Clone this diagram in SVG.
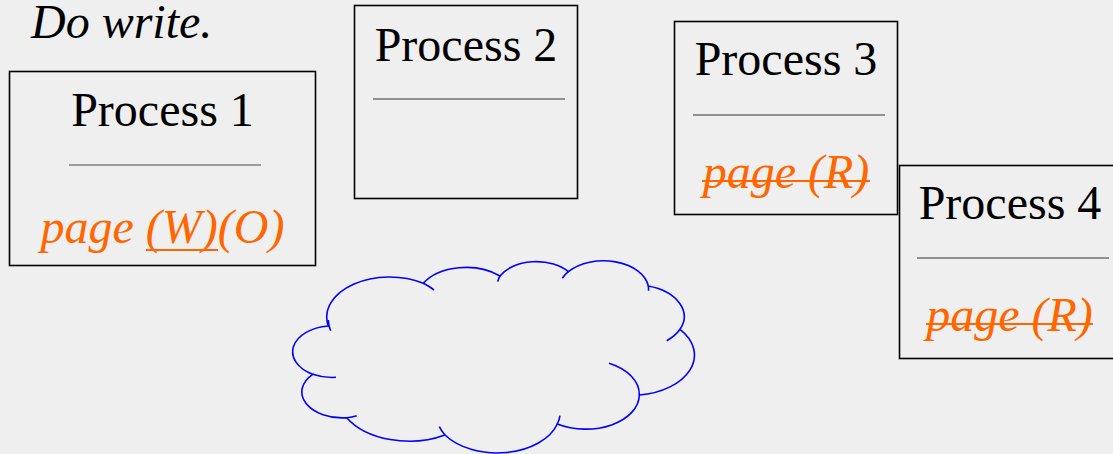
<svg xmlns="http://www.w3.org/2000/svg" width="1113" height="454" viewBox="0 0 1113 454">
<style>
.bg{fill:#efefef}
.box{fill:none;stroke:#000;stroke-width:1.6}
.sep{stroke:#333;stroke-width:1.2}
.sep1{stroke:#808080;stroke-width:1.6}
.title{font-size:48px;fill:#000;text-anchor:middle}
.page{font-size:48px;font-style:italic;fill:#ff6600;text-anchor:middle}
.strike{stroke:#ff6600;stroke-width:2}
.cloud{fill:none;stroke:#0000ff;stroke-width:1.6}
.note{font-size:48px;font-style:italic;fill:#000}
</style>
<rect class="bg" x="0" y="0" width="1113" height="454"/>
<g font-family="'Liberation Serif', 'Times New Roman', 'DejaVu Serif', serif">
<text class="note" x="31" y="38">Do write.</text>
<g id="process1">
<rect class="box" x="9.5" y="71.5" width="306" height="194"/>
<text class="title" x="162.5" y="126">Process 1</text>
<line class="sep1" x1="69" y1="165" x2="261" y2="165"/>
<text class="page" x="162.5" y="243">page (W)(O)</text>
<line class="strike" x1="146" y1="250" x2="218" y2="250"/>
</g>
<g id="process2">
<rect class="box" x="354.5" y="5.5" width="223" height="193"/>
<text class="title" x="466" y="61">Process 2</text>
<line class="sep" x1="373" y1="99" x2="565" y2="99"/>
</g>
<g id="process3">
<rect class="box" x="674.5" y="21.5" width="223" height="193"/>
<text class="title" x="786" y="75">Process 3</text>
<line class="sep" x1="693" y1="115" x2="885" y2="115"/>
<text class="page" x="786" y="188">page (R)</text>
<line class="strike" x1="702" y1="181" x2="870" y2="181"/>
</g>
<g id="process4">
<rect class="box" x="899.5" y="165.5" width="223" height="193"/>
<text class="title" x="1010" y="219">Process 4</text>
<line class="sep" x1="917" y1="258" x2="1109" y2="258"/>
<text class="page" x="1009.5" y="331">page (R)</text>
<line class="strike" x1="926" y1="324" x2="1093" y2="324"/>
</g>
</g>
<g id="cloud">
<path class="cloud" d="M328.3,326 A62.7,40.2 0 0 1 423.3,283.3 A49.5,31.8 0 0 1 500,276 A40.5,26 0 0 1 568.3,271.7 A45.1,28.9 0 0 1 648.3,286 A49.5,31.8 0 0 1 680,329.3 A62.9,40.3 0 0 1 639.3,395 A53.7,34.4 0 0 1 557.3,424 A62.7,40.3 0 0 1 445,435 A71.7,46.1 0 0 1 346.7,417.7 A40.5,25.9 0 0 1 312.7,374.3 A40.3,26 0 0 1 328.3,326 Z"/>
<path class="cloud" d="M330.7,330.7 A62.7,40.2 0 0 1 328.3,320 M423.3,283.3 A62.7,40.2 0 0 1 434,290 M497.7,281.7 A40.5,26 0 0 1 500,276 M562.3,278.3 A45.1,28.9 0 0 1 568.3,271.7 M648.3,286 A45.1,28.9 0 0 1 648.5,290.7 M680,329.3 A49.5,31.8 0 0 1 666.7,340.7 M609,363.3 A53.7,34.4 0 0 1 639.3,395 M560,415.7 A62.7,40.3 0 0 1 557.3,424 M445,435 A62.7,40.3 0 0 1 439.3,426.7 M356.7,415.7 A40.5,25.9 0 0 1 346.7,417.7 M336,377.3 A40.3,26 0 0 1 312.7,374.3"/>
</g>
</svg>
